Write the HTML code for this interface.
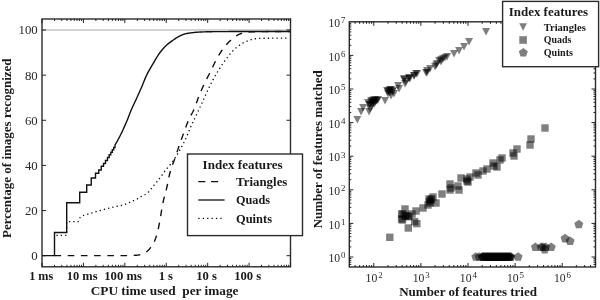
<!DOCTYPE html>
<html><head><meta charset="utf-8"><title>Index features</title>
<style>
html,body{margin:0;padding:0;background:#fff}
body{width:600px;height:300px;overflow:hidden}
svg{display:block}
text{font-family:"Liberation Serif","DejaVu Serif",serif;fill:#1a1a1a}
.b{font-weight:bold}
.tk{fill:#2a2a2a}
</style></head><body>
<svg width="600" height="300" viewBox="0 0 600 300">
<rect width="600" height="300" fill="#fff"/>
<line x1="42.0" x2="290.5" y1="30" y2="30" stroke="#9a9a9a" stroke-width="0.85"/>
<polyline points="42.00,255.60 54.50,255.60 54.50,232.50 66.70,232.50 66.70,202.80 79.70,202.80 79.70,192.20 86.70,192.20 86.70,185.00 91.25,185.00 91.25,178.00 95.50,178.00 95.50,173.25 98.75,173.25 98.75,170.00 101.25,170.00 101.25,166.25 103.50,166.25 103.50,163.50 105.50,163.50 105.50,160.50 107.50,160.50 107.50,157.50 109.20,157.50 109.20,154.80 110.80,154.80 110.80,152.20 112.30,152.20 112.30,149.80 113.70,149.80 113.70,147.50 115.00,147.50 115.00,145.00 115.00,145.00 116.00,143.32 117.00,141.58 118.00,139.77 119.00,137.91 120.00,135.98 121.00,134.00 122.00,131.94 123.00,129.82 124.00,127.63 125.00,125.38 126.00,123.08 127.00,120.70 128.00,118.18 129.00,115.60 130.00,113.05 131.00,110.59 132.00,108.29 133.00,106.08 134.00,103.94 135.00,101.82 136.00,99.68 137.00,97.50 138.00,95.27 139.00,93.02 140.00,90.75 141.00,88.47 142.00,86.16 143.00,83.81 144.00,81.35 145.00,78.87 146.00,76.51 147.00,74.39 148.00,72.44 149.00,70.60 150.00,68.85 151.00,67.15 152.00,65.48 153.00,63.81 154.00,62.11 155.00,60.39 156.00,58.69 157.00,57.01 158.00,55.41 159.00,53.89 160.00,52.50 161.00,51.21 162.00,49.97 163.00,48.80 164.00,47.68 165.00,46.63 166.00,45.65 167.00,44.73 168.00,43.88 169.00,43.08 170.00,42.32 171.00,41.60 172.00,40.90 173.00,40.21 174.00,39.52 175.00,38.82 176.00,38.13 177.00,37.47 178.00,36.85 179.00,36.29 180.00,35.80 181.00,35.37 182.00,34.95 183.00,34.57 184.00,34.22 185.00,33.91 186.00,33.65 187.00,33.44 188.00,33.26 189.00,33.10 190.00,32.95 191.00,32.82 192.00,32.69 193.00,32.59 194.00,32.49 195.00,32.40 196.00,32.32 197.00,32.24 198.00,32.17 199.00,32.10 200.00,32.04 201.00,31.99 202.00,31.95 203.00,31.91 204.00,31.88 205.00,31.85 206.00,31.82 207.00,31.80 208.00,31.77 209.00,31.75 210.00,31.73 211.00,31.71 212.00,31.69 213.00,31.67 214.00,31.66 215.00,31.64 216.00,31.63 217.00,31.62 218.00,31.61 219.00,31.60 220.00,31.60 221.00,31.60 222.00,31.59 223.00,31.59 224.00,31.59 225.00,31.58 226.00,31.58 227.00,31.58 228.00,31.58 229.00,31.57 230.00,31.57 231.00,31.57 232.00,31.57 233.00,31.56 234.00,31.56 235.00,31.56 236.00,31.56 237.00,31.55 238.00,31.55 239.00,31.55 240.00,31.55 241.00,31.55 242.00,31.54 243.00,31.54 244.00,31.54 245.00,31.54 246.00,31.54 247.00,31.53 248.00,31.53 249.00,31.53 250.00,31.53 251.00,31.53 252.00,31.53 253.00,31.53 254.00,31.52 255.00,31.52 256.00,31.52 257.00,31.52 258.00,31.52 259.00,31.52 260.00,31.52 261.00,31.51 262.00,31.51 263.00,31.51 264.00,31.51 265.00,31.51 266.00,31.51 267.00,31.51 268.00,31.51 269.00,31.51 270.00,31.51 271.00,31.51 272.00,31.51 273.00,31.51 274.00,31.50 275.00,31.50 276.00,31.50 277.00,31.50 278.00,31.50 279.00,31.50 280.00,31.50 281.00,31.50 282.00,31.50 283.00,31.50 284.00,31.50 285.00,31.50 286.00,31.50 287.00,31.50 288.00,31.50 289.00,31.50 290.00,31.50 290.50,31.50" fill="none" stroke="#111" stroke-width="1.4" stroke-linejoin="miter"/>
<polyline points="54.50,255.60 55.50,255.60 56.50,255.60 57.50,255.60 58.50,255.60 59.50,255.60 60.50,255.60 61.50,255.60 62.50,255.60 63.50,255.60 64.50,255.60 65.50,255.60 66.50,255.60 67.50,255.60 68.50,255.60 69.50,255.60 70.50,255.60 71.50,255.60 72.50,255.60 73.50,255.60 74.50,255.60 75.50,255.60 76.50,255.60 77.50,255.60 78.50,255.60 79.50,255.60 80.50,255.60 81.50,255.60 82.50,255.60 83.50,255.60 84.50,255.60 85.50,255.60 86.50,255.60 87.50,255.60 88.50,255.60 89.50,255.60 90.50,255.60 91.50,255.60 92.50,255.60 93.50,255.60 94.50,255.60 95.50,255.60 96.50,255.60 97.50,255.60 98.50,255.60 99.50,255.60 100.50,255.60 101.50,255.60 102.50,255.60 103.50,255.60 104.50,255.60 105.50,255.60 106.50,255.60 107.50,255.60 108.50,255.60 109.50,255.60 110.50,255.60 111.50,255.60 112.50,255.60 113.50,255.60 114.50,255.60 115.50,255.60 116.50,255.60 117.50,255.60 118.50,255.60 119.50,255.60 120.50,255.60 121.50,255.60 122.50,255.60 123.50,255.60 124.50,255.60 125.50,255.60 126.50,255.59 127.50,255.58 128.50,255.56 129.50,255.53 130.50,255.50 131.50,255.46 132.50,255.42 133.50,255.37 134.50,255.33 135.50,255.27 136.50,255.19 137.50,255.08 138.50,254.95 139.50,254.79 140.50,254.60 141.50,254.38 142.50,254.04 143.50,253.59 144.50,253.05 145.50,252.43 146.50,251.74 147.50,251.00 148.50,250.10 149.50,248.97 150.50,247.68 151.50,246.30 152.50,244.80 153.50,243.10 154.50,241.12 155.50,238.73 156.50,235.65 157.50,231.99 158.50,227.81 159.50,222.72 160.50,217.10 161.50,210.90 162.50,205.29 163.50,200.22 164.50,196.07 165.50,192.71 166.50,188.96 167.50,184.25 168.50,179.18 169.50,174.48 170.50,170.76 171.50,167.63 172.50,164.81 173.50,162.14 174.50,159.43 175.50,156.53 176.50,153.58 177.50,150.60 178.50,147.65 179.50,144.73 180.50,141.88 181.50,139.09 182.50,136.33 183.50,133.60 184.50,130.88 185.50,128.11 186.50,125.33 187.50,122.64 188.50,120.14 189.50,117.94 190.50,116.04 191.50,114.28 192.50,112.51 193.50,110.54 194.50,108.23 195.50,105.62 196.50,102.82 197.50,99.99 198.50,97.27 199.50,94.77 200.50,92.36 201.50,90.02 202.50,87.75 203.50,85.54 204.50,83.41 205.50,81.36 206.50,79.37 207.50,77.41 208.50,75.46 209.50,73.49 210.50,71.49 211.50,69.43 212.50,67.34 213.50,65.25 214.50,63.19 215.50,61.19 216.50,59.29 217.50,57.50 218.50,55.80 219.50,54.15 220.50,52.55 221.50,51.01 222.50,49.55 223.50,48.16 224.50,46.86 225.50,45.66 226.50,44.51 227.50,43.41 228.50,42.36 229.50,41.37 230.50,40.44 231.50,39.57 232.50,38.75 233.50,37.96 234.50,37.18 235.50,36.42 236.50,35.71 237.50,35.07 238.50,34.52 239.50,34.07 240.50,33.75 241.50,33.45 242.50,33.17 243.50,32.91 244.50,32.67 245.50,32.46 246.50,32.28 247.50,32.13 248.50,32.01 249.50,31.93 250.50,31.88 251.50,31.84 252.50,31.80 253.50,31.76 254.50,31.73 255.50,31.70 256.50,31.68 257.50,31.66 258.50,31.64 259.50,31.63 260.50,31.61 261.50,31.60 262.50,31.60 263.50,31.59 264.50,31.58 265.50,31.58 266.50,31.57 267.50,31.57 268.50,31.56 269.50,31.55 270.50,31.55 271.50,31.55 272.50,31.54 273.50,31.54 274.50,31.53 275.50,31.53 276.50,31.52 277.50,31.52 278.50,31.52 279.50,31.52 280.50,31.51 281.50,31.51 282.50,31.51 283.50,31.51 284.50,31.50 285.50,31.50 286.50,31.50 287.50,31.50 288.50,31.50 289.50,31.50 290.50,31.50" fill="none" stroke="#111" stroke-width="1.4" stroke-dasharray="6.6 6.6"/>
<polyline points="56.40,235.30 66.70,235.30 66.70,221.70 78.20,221.70 78.20,221.70 79.20,219.29 80.20,217.37 81.20,216.43 82.20,215.89 83.20,215.50 84.20,215.18 85.20,214.89 86.20,214.57 87.20,214.28 88.20,214.01 89.20,213.74 90.20,213.47 91.20,213.18 92.20,212.86 93.20,212.53 94.20,212.20 95.20,211.88 96.20,211.58 97.20,211.30 98.20,211.03 99.20,210.76 100.20,210.50 101.20,210.25 102.20,209.99 103.20,209.73 104.20,209.46 105.20,209.19 106.20,208.92 107.20,208.66 108.20,208.39 109.20,208.13 110.20,207.87 111.20,207.62 112.20,207.38 113.20,207.15 114.20,206.92 115.20,206.70 116.20,206.48 117.20,206.26 118.20,206.06 119.20,205.87 120.20,205.68 121.20,205.49 122.20,205.28 123.20,205.03 124.20,204.72 125.20,204.34 126.20,203.92 127.20,203.48 128.20,203.04 129.20,202.62 130.20,202.20 131.20,201.78 132.20,201.34 133.20,200.90 134.20,200.44 135.20,199.96 136.20,199.46 137.20,198.92 138.20,198.31 139.20,197.67 140.20,197.05 141.20,196.49 142.20,196.00 143.20,195.55 144.20,195.09 145.20,194.56 146.20,193.93 147.20,193.17 148.20,192.29 149.20,191.30 150.20,190.12 151.20,188.75 152.20,187.38 153.20,186.15 154.20,184.97 155.20,183.82 156.20,182.67 157.20,181.48 158.20,180.25 159.20,178.94 160.20,177.59 161.20,176.21 162.20,174.82 163.20,173.43 164.20,172.06 165.20,170.74 166.20,169.47 167.20,168.23 168.20,167.02 169.20,165.82 170.20,164.60 171.20,163.36 172.20,162.06 173.20,160.71 174.20,159.27 175.20,157.76 176.20,156.19 177.20,154.55 178.20,152.87 179.20,151.14 180.20,149.37 181.20,147.58 182.20,145.74 183.20,143.85 184.20,141.90 185.20,139.88 186.20,137.78 187.20,135.57 188.20,133.13 189.20,130.60 190.20,128.11 191.20,125.80 192.20,123.60 193.20,121.48 194.20,119.40 195.20,117.35 196.20,115.30 197.20,113.24 198.20,111.14 199.20,108.99 200.20,106.82 201.20,104.63 202.20,102.44 203.20,100.24 204.20,98.06 205.20,95.86 206.20,93.64 207.20,91.42 208.20,89.24 209.20,87.13 210.20,85.10 211.20,83.15 212.20,81.26 213.20,79.42 214.20,77.64 215.20,75.91 216.20,74.20 217.20,72.51 218.20,70.84 219.20,69.20 220.20,67.59 221.20,66.02 222.20,64.50 223.20,63.02 224.20,61.60 225.20,60.23 226.20,58.89 227.20,57.57 228.20,56.27 229.20,55.00 230.20,53.77 231.20,52.60 232.20,51.48 233.20,50.44 234.20,49.46 235.20,48.58 236.20,47.74 237.20,46.93 238.20,46.16 239.20,45.42 240.20,44.71 241.20,44.06 242.20,43.44 243.20,42.88 244.20,42.37 245.20,41.91 246.20,41.47 247.20,41.04 248.20,40.63 249.20,40.23 250.20,39.86 251.20,39.54 252.20,39.25 253.20,39.02 254.20,38.84 255.20,38.73 256.20,38.65 257.20,38.57 258.20,38.50 259.20,38.44 260.20,38.39 261.20,38.34 262.20,38.30 263.20,38.28 264.20,38.26 265.20,38.25 266.20,38.24 267.20,38.24 268.20,38.24 269.20,38.23 270.20,38.23 271.20,38.23 272.20,38.22 273.20,38.22 274.20,38.22 275.20,38.21 276.20,38.21 277.20,38.21 278.20,38.21 279.20,38.21 280.20,38.20 281.20,38.20 282.20,38.20 283.20,38.20 284.20,38.20 285.20,38.20 286.20,38.20 287.20,38.20 287.50,38.20" fill="none" stroke="#111" stroke-width="1.3" stroke-dasharray="1.3 3.05"/>
<rect x="42.0" y="19.0" width="248.5" height="247.8" fill="none" stroke="#2c2c2c" stroke-width="1.4"/>
<path d="M42.00 266.8v-4M42.00 19.0v4M54.47 266.8v-2M54.47 19.0v2M61.76 266.8v-2M61.76 19.0v2M66.94 266.8v-2M66.94 19.0v2M70.95 266.8v-2M70.95 19.0v2M74.23 266.8v-2M74.23 19.0v2M77.00 266.8v-2M77.00 19.0v2M79.41 266.8v-2M79.41 19.0v2M81.52 266.8v-2M81.52 19.0v2M83.42 266.8v-4M83.42 19.0v4M95.89 266.8v-2M95.89 19.0v2M103.18 266.8v-2M103.18 19.0v2M108.36 266.8v-2M108.36 19.0v2M112.37 266.8v-2M112.37 19.0v2M115.65 266.8v-2M115.65 19.0v2M118.42 266.8v-2M118.42 19.0v2M120.83 266.8v-2M120.83 19.0v2M122.94 266.8v-2M122.94 19.0v2M124.84 266.8v-4M124.84 19.0v4M137.31 266.8v-2M137.31 19.0v2M144.60 266.8v-2M144.60 19.0v2M149.78 266.8v-2M149.78 19.0v2M153.79 266.8v-2M153.79 19.0v2M157.07 266.8v-2M157.07 19.0v2M159.84 266.8v-2M159.84 19.0v2M162.25 266.8v-2M162.25 19.0v2M164.36 266.8v-2M164.36 19.0v2M166.26 266.8v-4M166.26 19.0v4M178.73 266.8v-2M178.73 19.0v2M186.02 266.8v-2M186.02 19.0v2M191.20 266.8v-2M191.20 19.0v2M195.21 266.8v-2M195.21 19.0v2M198.49 266.8v-2M198.49 19.0v2M201.26 266.8v-2M201.26 19.0v2M203.67 266.8v-2M203.67 19.0v2M205.78 266.8v-2M205.78 19.0v2M207.68 266.8v-4M207.68 19.0v4M220.15 266.8v-2M220.15 19.0v2M227.44 266.8v-2M227.44 19.0v2M232.62 266.8v-2M232.62 19.0v2M236.63 266.8v-2M236.63 19.0v2M239.91 266.8v-2M239.91 19.0v2M242.68 266.8v-2M242.68 19.0v2M245.09 266.8v-2M245.09 19.0v2M247.20 266.8v-2M247.20 19.0v2M249.10 266.8v-4M249.10 19.0v4M261.57 266.8v-2M261.57 19.0v2M268.86 266.8v-2M268.86 19.0v2M274.04 266.8v-2M274.04 19.0v2M278.05 266.8v-2M278.05 19.0v2M281.33 266.8v-2M281.33 19.0v2M284.10 266.8v-2M284.10 19.0v2M286.51 266.8v-2M286.51 19.0v2M288.62 266.8v-2M288.62 19.0v2M290.52 266.8v-4M290.52 19.0v4M42.0 255.70h4M290.5 255.70h-4M42.0 210.56h4M290.5 210.56h-4M42.0 165.42h4M290.5 165.42h-4M42.0 120.28h4M290.5 120.28h-4M42.0 75.14h4M290.5 75.14h-4M42.0 30.00h4M290.5 30.00h-4" stroke="#1a1a1a" stroke-width="0.95" fill="none"/>
<text x="37.7" y="260.1" text-anchor="end" class="tk" font-size="12.8">0</text>
<text x="37.7" y="214.9" text-anchor="end" class="tk" font-size="12.8">20</text>
<text x="37.7" y="169.8" text-anchor="end" class="tk" font-size="12.8">40</text>
<text x="37.7" y="124.6" text-anchor="end" class="tk" font-size="12.8">60</text>
<text x="37.7" y="79.5" text-anchor="end" class="tk" font-size="12.8">80</text>
<text x="37.7" y="34.3" text-anchor="end" class="tk" font-size="12.8">100</text>
<text x="29.2" y="280.2" class="b" font-size="12.2" textLength="24.1" lengthAdjust="spacingAndGlyphs" xml:space="preserve">1 ms</text>
<text x="66.7" y="280.2" class="b" font-size="12.2" textLength="30.8" lengthAdjust="spacingAndGlyphs" xml:space="preserve">10 ms</text>
<text x="104.2" y="280.2" class="b" font-size="12.2" textLength="37.8" lengthAdjust="spacingAndGlyphs" xml:space="preserve">100 ms</text>
<text x="158.7" y="280.2" class="b" font-size="12.2" textLength="14.3" lengthAdjust="spacingAndGlyphs" xml:space="preserve">1 s</text>
<text x="196.3" y="280.2" class="b" font-size="12.2" textLength="20.7" lengthAdjust="spacingAndGlyphs" xml:space="preserve">10 s</text>
<text x="234.2" y="280.2" class="b" font-size="12.2" textLength="27.1" lengthAdjust="spacingAndGlyphs" xml:space="preserve">100 s</text>
<text x="90.7" y="295.3" class="b" font-size="12.2" textLength="147.8" lengthAdjust="spacingAndGlyphs" xml:space="preserve">CPU time used  per image</text>
<text transform="translate(10.6 238) rotate(-90)" class="b" font-size="12.2" textLength="179.6" lengthAdjust="spacingAndGlyphs">Percentage of images recognized</text>
<rect x="187.5" y="154" width="115" height="81.6" fill="#fff" stroke="#2c2c2c" stroke-width="1.4"/>
<text x="202.6" y="169" class="b" font-size="12.2" textLength="80.0" lengthAdjust="spacingAndGlyphs" xml:space="preserve">Index features</text>
<line x1="198.3" x2="224" y1="181.6" y2="181.6" stroke="#111" stroke-width="1.4" stroke-dasharray="7 5.8"/>
<line x1="198.3" x2="224.6" y1="200" y2="200" stroke="#111" stroke-width="1.3"/>
<line x1="198.3" x2="222" y1="218.3" y2="218.3" stroke="#111" stroke-width="1.3" stroke-dasharray="1.3 3.1"/>
<text x="236.0" y="186" class="b" font-size="12.2" textLength="51.4" lengthAdjust="spacingAndGlyphs" xml:space="preserve">Triangles</text>
<text x="236.0" y="204.4" class="b" font-size="12.2" textLength="34.0" lengthAdjust="spacingAndGlyphs" xml:space="preserve">Quads</text>
<text x="236.0" y="223" class="b" font-size="12.2" textLength="36.0" lengthAdjust="spacingAndGlyphs" xml:space="preserve">Quints</text>
<path d="M353.4 115.9h7.9l-3.95 7.6z" fill="#000" fill-opacity="0.5"/>
<path d="M357.1 107.9h7.9l-3.95 7.6z" fill="#000" fill-opacity="0.5"/>
<path d="M359.1 103.9h7.9l-3.95 7.6z" fill="#000" fill-opacity="0.5"/>
<path d="M365.1 107.9h7.9l-3.95 7.6z" fill="#000" fill-opacity="0.5"/>
<path d="M366.1 104.9h7.9l-3.95 7.6z" fill="#000" fill-opacity="0.5"/>
<path d="M364.1 98.9h7.9l-3.95 7.6z" fill="#000" fill-opacity="0.5"/>
<path d="M367.1 96.9h7.9l-3.95 7.6z" fill="#000" fill-opacity="0.5"/>
<path d="M369.1 98.9h7.9l-3.95 7.6z" fill="#000" fill-opacity="0.5"/>
<path d="M371.1 95.9h7.9l-3.95 7.6z" fill="#000" fill-opacity="0.5"/>
<path d="M373.1 96.9h7.9l-3.95 7.6z" fill="#000" fill-opacity="0.5"/>
<path d="M366.1 100.9h7.9l-3.95 7.6z" fill="#000" fill-opacity="0.5"/>
<path d="M368.1 101.9h7.9l-3.95 7.6z" fill="#000" fill-opacity="0.5"/>
<path d="M370.1 100.4h7.9l-3.95 7.6z" fill="#000" fill-opacity="0.5"/>
<path d="M381.1 96.9h7.9l-3.95 7.6z" fill="#000" fill-opacity="0.5"/>
<path d="M383.1 86.9h7.9l-3.95 7.6z" fill="#000" fill-opacity="0.5"/>
<path d="M386.1 85.9h7.9l-3.95 7.6z" fill="#000" fill-opacity="0.5"/>
<path d="M384.1 89.9h7.9l-3.95 7.6z" fill="#000" fill-opacity="0.5"/>
<path d="M388.1 87.9h7.9l-3.95 7.6z" fill="#000" fill-opacity="0.5"/>
<path d="M390.1 89.9h7.9l-3.95 7.6z" fill="#000" fill-opacity="0.5"/>
<path d="M387.1 91.9h7.9l-3.95 7.6z" fill="#000" fill-opacity="0.5"/>
<path d="M394.1 81.9h7.9l-3.95 7.6z" fill="#000" fill-opacity="0.5"/>
<path d="M395.1 84.9h7.9l-3.95 7.6z" fill="#000" fill-opacity="0.5"/>
<path d="M400.1 75.9h7.9l-3.95 7.6z" fill="#000" fill-opacity="0.5"/>
<path d="M401.1 79.9h7.9l-3.95 7.6z" fill="#000" fill-opacity="0.5"/>
<path d="M405.1 74.9h7.9l-3.95 7.6z" fill="#000" fill-opacity="0.5"/>
<path d="M410.1 71.9h7.9l-3.95 7.6z" fill="#000" fill-opacity="0.5"/>
<path d="M412.1 69.9h7.9l-3.95 7.6z" fill="#000" fill-opacity="0.5"/>
<path d="M423.1 68.9h7.9l-3.95 7.6z" fill="#000" fill-opacity="0.5"/>
<path d="M482.1 27.9h7.9l-3.95 7.6z" fill="#000" fill-opacity="0.5"/>
<path d="M465.1 37.9h7.9l-3.95 7.6z" fill="#000" fill-opacity="0.5"/>
<path d="M460.1 42.9h7.9l-3.95 7.6z" fill="#000" fill-opacity="0.5"/>
<path d="M455.1 46.9h7.9l-3.95 7.6z" fill="#000" fill-opacity="0.5"/>
<path d="M450.1 49.9h7.9l-3.95 7.6z" fill="#000" fill-opacity="0.5"/>
<path d="M443.1 52.9h7.9l-3.95 7.6z" fill="#000" fill-opacity="0.5"/>
<path d="M439.1 54.9h7.9l-3.95 7.6z" fill="#000" fill-opacity="0.5"/>
<path d="M437.1 57.9h7.9l-3.95 7.6z" fill="#000" fill-opacity="0.5"/>
<path d="M433.1 59.9h7.9l-3.95 7.6z" fill="#000" fill-opacity="0.5"/>
<path d="M431.1 62.9h7.9l-3.95 7.6z" fill="#000" fill-opacity="0.5"/>
<path d="M426.1 64.9h7.9l-3.95 7.6z" fill="#000" fill-opacity="0.5"/>
<path d="M423.1 66.9h7.9l-3.95 7.6z" fill="#000" fill-opacity="0.5"/>
<path d="M422.1 68.9h7.9l-3.95 7.6z" fill="#000" fill-opacity="0.5"/>
<path d="M413.1 69.9h7.9l-3.95 7.6z" fill="#000" fill-opacity="0.5"/>
<path d="M410.1 71.9h7.9l-3.95 7.6z" fill="#000" fill-opacity="0.5"/>
<path d="M405.1 73.9h7.9l-3.95 7.6z" fill="#000" fill-opacity="0.5"/>
<path d="M400.1 74.9h7.9l-3.95 7.6z" fill="#000" fill-opacity="0.5"/>
<path d="M435.1 56.9h7.9l-3.95 7.6z" fill="#000" fill-opacity="0.5"/>
<path d="M437.1 55.9h7.9l-3.95 7.6z" fill="#000" fill-opacity="0.5"/>
<path d="M432.1 61.4h7.9l-3.95 7.6z" fill="#000" fill-opacity="0.5"/>
<path d="M441.1 53.9h7.9l-3.95 7.6z" fill="#000" fill-opacity="0.5"/>
<path d="M368.1 97.9h7.9l-3.95 7.6z" fill="#000" fill-opacity="0.5"/>
<path d="M370.1 97.4h7.9l-3.95 7.6z" fill="#000" fill-opacity="0.5"/>
<path d="M372.1 96.9h7.9l-3.95 7.6z" fill="#000" fill-opacity="0.5"/>
<path d="M367.1 99.4h7.9l-3.95 7.6z" fill="#000" fill-opacity="0.5"/>
<path d="M369.1 96.4h7.9l-3.95 7.6z" fill="#000" fill-opacity="0.5"/>
<path d="M371.1 98.4h7.9l-3.95 7.6z" fill="#000" fill-opacity="0.5"/>
<path d="M365.1 100.9h7.9l-3.95 7.6z" fill="#000" fill-opacity="0.5"/>
<path d="M374.1 95.9h7.9l-3.95 7.6z" fill="#000" fill-opacity="0.5"/>
<path d="M385.1 86.9h7.9l-3.95 7.6z" fill="#000" fill-opacity="0.5"/>
<path d="M387.1 85.9h7.9l-3.95 7.6z" fill="#000" fill-opacity="0.5"/>
<path d="M386.1 88.9h7.9l-3.95 7.6z" fill="#000" fill-opacity="0.5"/>
<path d="M384.1 87.9h7.9l-3.95 7.6z" fill="#000" fill-opacity="0.5"/>
<path d="M389.1 86.9h7.9l-3.95 7.6z" fill="#000" fill-opacity="0.5"/>
<path d="M402.1 77.9h7.9l-3.95 7.6z" fill="#000" fill-opacity="0.5"/>
<path d="M406.1 74.4h7.9l-3.95 7.6z" fill="#000" fill-opacity="0.5"/>
<rect x="386.1" y="233.6" width="7.4" height="7.4" fill="#000" fill-opacity="0.5"/>
<rect x="404.6" y="224.3" width="7.4" height="7.4" fill="#000" fill-opacity="0.5"/>
<rect x="410.9" y="217.9" width="7.4" height="7.4" fill="#000" fill-opacity="0.5"/>
<rect x="413.1" y="219.9" width="7.4" height="7.4" fill="#000" fill-opacity="0.5"/>
<rect x="398.8" y="216.3" width="7.4" height="7.4" fill="#000" fill-opacity="0.5"/>
<rect x="405.3" y="213.0" width="7.4" height="7.4" fill="#000" fill-opacity="0.5"/>
<rect x="402.1" y="212.1" width="7.4" height="7.4" fill="#000" fill-opacity="0.5"/>
<rect x="399.3" y="210.3" width="7.4" height="7.4" fill="#000" fill-opacity="0.5"/>
<rect x="427.1" y="196.3" width="7.4" height="7.4" fill="#000" fill-opacity="0.5"/>
<rect x="425.8" y="197.8" width="7.4" height="7.4" fill="#000" fill-opacity="0.5"/>
<rect x="427.8" y="195.3" width="7.4" height="7.4" fill="#000" fill-opacity="0.5"/>
<rect x="401.3" y="205.3" width="7.4" height="7.4" fill="#000" fill-opacity="0.5"/>
<rect x="397.9" y="210.3" width="7.4" height="7.4" fill="#000" fill-opacity="0.5"/>
<rect x="397.9" y="215.3" width="7.4" height="7.4" fill="#000" fill-opacity="0.5"/>
<rect x="404.3" y="212.3" width="7.4" height="7.4" fill="#000" fill-opacity="0.5"/>
<rect x="412.3" y="207.3" width="7.4" height="7.4" fill="#000" fill-opacity="0.5"/>
<rect x="408.3" y="210.3" width="7.4" height="7.4" fill="#000" fill-opacity="0.5"/>
<rect x="401.3" y="212.3" width="7.4" height="7.4" fill="#000" fill-opacity="0.5"/>
<rect x="419.3" y="204.3" width="7.4" height="7.4" fill="#000" fill-opacity="0.5"/>
<rect x="425.3" y="195.3" width="7.4" height="7.4" fill="#000" fill-opacity="0.5"/>
<rect x="426.3" y="199.3" width="7.4" height="7.4" fill="#000" fill-opacity="0.5"/>
<rect x="429.3" y="193.3" width="7.4" height="7.4" fill="#000" fill-opacity="0.5"/>
<rect x="432.3" y="199.3" width="7.4" height="7.4" fill="#000" fill-opacity="0.5"/>
<rect x="424.3" y="201.3" width="7.4" height="7.4" fill="#000" fill-opacity="0.5"/>
<rect x="438.3" y="190.3" width="7.4" height="7.4" fill="#000" fill-opacity="0.5"/>
<rect x="446.3" y="180.3" width="7.4" height="7.4" fill="#000" fill-opacity="0.5"/>
<rect x="446.3" y="186.3" width="7.4" height="7.4" fill="#000" fill-opacity="0.5"/>
<rect x="454.3" y="182.3" width="7.4" height="7.4" fill="#000" fill-opacity="0.5"/>
<rect x="455.3" y="186.3" width="7.4" height="7.4" fill="#000" fill-opacity="0.5"/>
<rect x="463.3" y="177.3" width="7.4" height="7.4" fill="#000" fill-opacity="0.5"/>
<rect x="447.3" y="184.3" width="7.4" height="7.4" fill="#000" fill-opacity="0.5"/>
<rect x="457.3" y="174.3" width="7.4" height="7.4" fill="#000" fill-opacity="0.5"/>
<rect x="463.3" y="175.3" width="7.4" height="7.4" fill="#000" fill-opacity="0.5"/>
<rect x="464.3" y="178.3" width="7.4" height="7.4" fill="#000" fill-opacity="0.5"/>
<rect x="466.3" y="173.3" width="7.4" height="7.4" fill="#000" fill-opacity="0.5"/>
<rect x="472.3" y="169.3" width="7.4" height="7.4" fill="#000" fill-opacity="0.5"/>
<rect x="474.3" y="171.3" width="7.4" height="7.4" fill="#000" fill-opacity="0.5"/>
<rect x="479.3" y="167.3" width="7.4" height="7.4" fill="#000" fill-opacity="0.5"/>
<rect x="483.3" y="165.3" width="7.4" height="7.4" fill="#000" fill-opacity="0.5"/>
<rect x="489.3" y="159.3" width="7.4" height="7.4" fill="#000" fill-opacity="0.5"/>
<rect x="490.3" y="162.3" width="7.4" height="7.4" fill="#000" fill-opacity="0.5"/>
<rect x="493.3" y="163.3" width="7.4" height="7.4" fill="#000" fill-opacity="0.5"/>
<rect x="496.3" y="156.3" width="7.4" height="7.4" fill="#000" fill-opacity="0.5"/>
<rect x="498.3" y="154.3" width="7.4" height="7.4" fill="#000" fill-opacity="0.5"/>
<rect x="509.3" y="149.3" width="7.4" height="7.4" fill="#000" fill-opacity="0.5"/>
<rect x="510.3" y="152.3" width="7.4" height="7.4" fill="#000" fill-opacity="0.5"/>
<rect x="513.3" y="145.3" width="7.4" height="7.4" fill="#000" fill-opacity="0.5"/>
<rect x="526.3" y="141.3" width="7.4" height="7.4" fill="#000" fill-opacity="0.5"/>
<rect x="527.3" y="135.3" width="7.4" height="7.4" fill="#000" fill-opacity="0.5"/>
<rect x="541.3" y="124.3" width="7.4" height="7.4" fill="#000" fill-opacity="0.5"/>
<polygon points="475.8,252.2 480.3,255.5 478.6,260.8 473.0,260.8 471.3,255.5" fill="#000" fill-opacity="0.5"/>
<polygon points="479.0,252.2 483.5,255.5 481.8,260.8 476.2,260.8 474.5,255.5" fill="#000" fill-opacity="0.5"/>
<polygon points="518.1,252.2 522.6,255.5 520.9,260.8 515.3,260.8 513.6,255.5" fill="#000" fill-opacity="0.5"/>
<polygon points="535.4,242.6 539.9,245.8 538.2,251.1 532.6,251.1 530.9,245.8" fill="#000" fill-opacity="0.5"/>
<polygon points="541.0,242.6 545.5,245.8 543.8,251.1 538.2,251.1 536.5,245.8" fill="#000" fill-opacity="0.5"/>
<polygon points="543.0,242.6 547.5,245.8 545.8,251.1 540.2,251.1 538.5,245.8" fill="#000" fill-opacity="0.5"/>
<polygon points="545.6,242.6 550.1,245.8 548.4,251.1 542.8,251.1 541.1,245.8" fill="#000" fill-opacity="0.5"/>
<polygon points="551.2,242.6 555.7,245.8 554.0,251.1 548.4,251.1 546.7,245.8" fill="#000" fill-opacity="0.5"/>
<polygon points="544.7,244.8 549.2,248.1 547.5,253.4 541.9,253.4 540.2,248.1" fill="#000" fill-opacity="0.5"/>
<polygon points="565.1,233.8 569.6,237.1 567.9,242.4 562.3,242.4 560.6,237.1" fill="#000" fill-opacity="0.5"/>
<polygon points="570.1,236.4 574.6,239.7 572.9,245.0 567.3,245.0 565.6,239.7" fill="#000" fill-opacity="0.5"/>
<polygon points="578.8,219.7 583.3,222.9 581.6,228.2 576.0,228.2 574.3,222.9" fill="#000" fill-opacity="0.5"/>
<polygon points="482.0,252.2 486.5,255.5 484.8,260.8 479.2,260.8 477.5,255.5" fill="#000" fill-opacity="0.5"/>
<polygon points="482.7,252.2 487.3,255.5 485.5,260.8 480.0,260.8 478.2,255.5" fill="#000" fill-opacity="0.5"/>
<polygon points="483.5,252.2 488.0,255.5 486.3,260.8 480.7,260.8 479.0,255.5" fill="#000" fill-opacity="0.5"/>
<polygon points="484.2,252.2 488.7,255.5 487.0,260.8 481.4,260.8 479.7,255.5" fill="#000" fill-opacity="0.5"/>
<polygon points="485.0,252.2 489.5,255.5 487.8,260.8 482.2,260.8 480.5,255.5" fill="#000" fill-opacity="0.5"/>
<polygon points="485.7,252.2 490.2,255.5 488.5,260.8 482.9,260.8 481.2,255.5" fill="#000" fill-opacity="0.5"/>
<polygon points="486.5,252.2 491.0,255.5 489.3,260.8 483.7,260.8 481.9,255.5" fill="#000" fill-opacity="0.5"/>
<polygon points="487.2,252.2 491.7,255.5 490.0,260.8 484.4,260.8 482.7,255.5" fill="#000" fill-opacity="0.5"/>
<polygon points="487.9,252.2 492.5,255.5 490.7,260.8 485.2,260.8 483.4,255.5" fill="#000" fill-opacity="0.5"/>
<polygon points="488.7,252.2 493.2,255.5 491.5,260.8 485.9,260.8 484.2,255.5" fill="#000" fill-opacity="0.5"/>
<polygon points="489.4,252.2 494.0,255.5 492.2,260.8 486.6,260.8 484.9,255.5" fill="#000" fill-opacity="0.5"/>
<polygon points="490.2,252.2 494.7,255.5 493.0,260.8 487.4,260.8 485.7,255.5" fill="#000" fill-opacity="0.5"/>
<polygon points="490.9,252.2 495.4,255.5 493.7,260.8 488.1,260.8 486.4,255.5" fill="#000" fill-opacity="0.5"/>
<polygon points="491.7,252.2 496.2,255.5 494.5,260.8 488.9,260.8 487.1,255.5" fill="#000" fill-opacity="0.5"/>
<polygon points="492.4,252.2 496.9,255.5 495.2,260.8 489.6,260.8 487.9,255.5" fill="#000" fill-opacity="0.5"/>
<polygon points="493.2,252.2 497.7,255.5 495.9,260.8 490.4,260.8 488.6,255.5" fill="#000" fill-opacity="0.5"/>
<polygon points="493.9,252.2 498.4,255.5 496.7,260.8 491.1,260.8 489.4,255.5" fill="#000" fill-opacity="0.5"/>
<polygon points="494.6,252.2 499.2,255.5 497.4,260.8 491.8,260.8 490.1,255.5" fill="#000" fill-opacity="0.5"/>
<polygon points="495.4,252.2 499.9,255.5 498.2,260.8 492.6,260.8 490.9,255.5" fill="#000" fill-opacity="0.5"/>
<polygon points="496.1,252.2 500.6,255.5 498.9,260.8 493.3,260.8 491.6,255.5" fill="#000" fill-opacity="0.5"/>
<polygon points="496.9,252.2 501.4,255.5 499.7,260.8 494.1,260.8 492.4,255.5" fill="#000" fill-opacity="0.5"/>
<polygon points="497.6,252.2 502.1,255.5 500.4,260.8 494.8,260.8 493.1,255.5" fill="#000" fill-opacity="0.5"/>
<polygon points="498.4,252.2 502.9,255.5 501.2,260.8 495.6,260.8 493.8,255.5" fill="#000" fill-opacity="0.5"/>
<polygon points="499.1,252.2 503.6,255.5 501.9,260.8 496.3,260.8 494.6,255.5" fill="#000" fill-opacity="0.5"/>
<polygon points="499.8,252.2 504.4,255.5 502.6,260.8 497.1,260.8 495.3,255.5" fill="#000" fill-opacity="0.5"/>
<polygon points="500.6,252.2 505.1,255.5 503.4,260.8 497.8,260.8 496.1,255.5" fill="#000" fill-opacity="0.5"/>
<polygon points="501.3,252.2 505.9,255.5 504.1,260.8 498.5,260.8 496.8,255.5" fill="#000" fill-opacity="0.5"/>
<polygon points="502.1,252.2 506.6,255.5 504.9,260.8 499.3,260.8 497.6,255.5" fill="#000" fill-opacity="0.5"/>
<polygon points="502.8,252.2 507.3,255.5 505.6,260.8 500.0,260.8 498.3,255.5" fill="#000" fill-opacity="0.5"/>
<polygon points="503.6,252.2 508.1,255.5 506.4,260.8 500.8,260.8 499.0,255.5" fill="#000" fill-opacity="0.5"/>
<polygon points="504.3,252.2 508.8,255.5 507.1,260.8 501.5,260.8 499.8,255.5" fill="#000" fill-opacity="0.5"/>
<polygon points="505.1,252.2 509.6,255.5 507.8,260.8 502.3,260.8 500.5,255.5" fill="#000" fill-opacity="0.5"/>
<polygon points="505.8,252.2 510.3,255.5 508.6,260.8 503.0,260.8 501.3,255.5" fill="#000" fill-opacity="0.5"/>
<polygon points="506.5,252.2 511.1,255.5 509.3,260.8 503.7,260.8 502.0,255.5" fill="#000" fill-opacity="0.5"/>
<polygon points="507.3,252.2 511.8,255.5 510.1,260.8 504.5,260.8 502.8,255.5" fill="#000" fill-opacity="0.5"/>
<polygon points="508.0,252.2 512.5,255.5 510.8,260.8 505.2,260.8 503.5,255.5" fill="#000" fill-opacity="0.5"/>
<polygon points="508.8,252.2 513.3,255.5 511.6,260.8 506.0,260.8 504.3,255.5" fill="#000" fill-opacity="0.5"/>
<polygon points="509.5,252.2 514.0,255.5 512.3,260.8 506.7,260.8 505.0,255.5" fill="#000" fill-opacity="0.5"/>
<polygon points="510.3,252.2 514.8,255.5 513.0,260.8 507.5,260.8 505.7,255.5" fill="#000" fill-opacity="0.5"/>
<polygon points="511.0,252.2 515.5,255.5 513.8,260.8 508.2,260.8 506.5,255.5" fill="#000" fill-opacity="0.5"/>
<rect x="349.3" y="21.8" width="246.2" height="245.2" fill="none" stroke="#2c2c2c" stroke-width="1.4"/>
<path d="M355.06 267v-2M355.06 21.8v2M359.62 267v-2M359.62 21.8v2M363.35 267v-2M363.35 21.8v2M366.50 267v-2M366.50 21.8v2M369.24 267v-2M369.24 21.8v2M371.64 267v-2M371.64 21.8v2M373.80 267v-4M373.80 21.8v4M387.98 267v-2M387.98 21.8v2M396.27 267v-2M396.27 21.8v2M402.16 267v-2M402.16 21.8v2M406.72 267v-2M406.72 21.8v2M410.45 267v-2M410.45 21.8v2M413.60 267v-2M413.60 21.8v2M416.34 267v-2M416.34 21.8v2M418.74 267v-2M418.74 21.8v2M420.90 267v-4M420.90 21.8v4M435.08 267v-2M435.08 21.8v2M443.37 267v-2M443.37 21.8v2M449.26 267v-2M449.26 21.8v2M453.82 267v-2M453.82 21.8v2M457.55 267v-2M457.55 21.8v2M460.70 267v-2M460.70 21.8v2M463.44 267v-2M463.44 21.8v2M465.84 267v-2M465.84 21.8v2M468.00 267v-4M468.00 21.8v4M482.18 267v-2M482.18 21.8v2M490.47 267v-2M490.47 21.8v2M496.36 267v-2M496.36 21.8v2M500.92 267v-2M500.92 21.8v2M504.65 267v-2M504.65 21.8v2M507.80 267v-2M507.80 21.8v2M510.54 267v-2M510.54 21.8v2M512.94 267v-2M512.94 21.8v2M515.10 267v-4M515.10 21.8v4M529.28 267v-2M529.28 21.8v2M537.57 267v-2M537.57 21.8v2M543.46 267v-2M543.46 21.8v2M548.02 267v-2M548.02 21.8v2M551.75 267v-2M551.75 21.8v2M554.90 267v-2M554.90 21.8v2M557.64 267v-2M557.64 21.8v2M560.04 267v-2M560.04 21.8v2M562.20 267v-4M562.20 21.8v4M576.38 267v-2M576.38 21.8v2M584.67 267v-2M584.67 21.8v2M590.56 267v-2M590.56 21.8v2M349.3 264.45h2M595.5 264.45h-2M349.3 262.20h2M595.5 262.20h-2M349.3 260.26h2M595.5 260.26h-2M349.3 258.54h2M595.5 258.54h-2M349.3 257.00h4M595.5 257.00h-4M349.3 246.89h2M595.5 246.89h-2M349.3 240.97h2M595.5 240.97h-2M349.3 236.77h2M595.5 236.77h-2M349.3 233.51h2M595.5 233.51h-2M349.3 230.85h2M595.5 230.85h-2M349.3 228.60h2M595.5 228.60h-2M349.3 226.66h2M595.5 226.66h-2M349.3 224.94h2M595.5 224.94h-2M349.3 223.40h4M595.5 223.40h-4M349.3 213.29h2M595.5 213.29h-2M349.3 207.37h2M595.5 207.37h-2M349.3 203.17h2M595.5 203.17h-2M349.3 199.91h2M595.5 199.91h-2M349.3 197.25h2M595.5 197.25h-2M349.3 195.00h2M595.5 195.00h-2M349.3 193.06h2M595.5 193.06h-2M349.3 191.34h2M595.5 191.34h-2M349.3 189.80h4M595.5 189.80h-4M349.3 179.69h2M595.5 179.69h-2M349.3 173.77h2M595.5 173.77h-2M349.3 169.57h2M595.5 169.57h-2M349.3 166.31h2M595.5 166.31h-2M349.3 163.65h2M595.5 163.65h-2M349.3 161.40h2M595.5 161.40h-2M349.3 159.46h2M595.5 159.46h-2M349.3 157.74h2M595.5 157.74h-2M349.3 156.20h4M595.5 156.20h-4M349.3 146.09h2M595.5 146.09h-2M349.3 140.17h2M595.5 140.17h-2M349.3 135.97h2M595.5 135.97h-2M349.3 132.71h2M595.5 132.71h-2M349.3 130.05h2M595.5 130.05h-2M349.3 127.80h2M595.5 127.80h-2M349.3 125.86h2M595.5 125.86h-2M349.3 124.14h2M595.5 124.14h-2M349.3 122.60h4M595.5 122.60h-4M349.3 112.49h2M595.5 112.49h-2M349.3 106.57h2M595.5 106.57h-2M349.3 102.37h2M595.5 102.37h-2M349.3 99.11h2M595.5 99.11h-2M349.3 96.45h2M595.5 96.45h-2M349.3 94.20h2M595.5 94.20h-2M349.3 92.26h2M595.5 92.26h-2M349.3 90.54h2M595.5 90.54h-2M349.3 89.00h4M595.5 89.00h-4M349.3 78.89h2M595.5 78.89h-2M349.3 72.97h2M595.5 72.97h-2M349.3 68.77h2M595.5 68.77h-2M349.3 65.51h2M595.5 65.51h-2M349.3 62.85h2M595.5 62.85h-2M349.3 60.60h2M595.5 60.60h-2M349.3 58.66h2M595.5 58.66h-2M349.3 56.94h2M595.5 56.94h-2M349.3 55.40h4M595.5 55.40h-4M349.3 45.29h2M595.5 45.29h-2M349.3 39.37h2M595.5 39.37h-2M349.3 35.17h2M595.5 35.17h-2M349.3 31.91h2M595.5 31.91h-2M349.3 29.25h2M595.5 29.25h-2M349.3 27.00h2M595.5 27.00h-2M349.3 25.06h2M595.5 25.06h-2M349.3 23.34h2M595.5 23.34h-2" stroke="#1a1a1a" stroke-width="0.95" fill="none"/>
<text x="328.4" y="262.2" class="tk" font-size="12.8" textLength="11.7" lengthAdjust="spacingAndGlyphs">10</text>
<text x="341.0" y="258.3" class="tk" font-size="8.9">0</text>
<text x="328.4" y="228.6" class="tk" font-size="12.8" textLength="11.7" lengthAdjust="spacingAndGlyphs">10</text>
<text x="341.0" y="224.7" class="tk" font-size="8.9">1</text>
<text x="328.4" y="195.0" class="tk" font-size="12.8" textLength="11.7" lengthAdjust="spacingAndGlyphs">10</text>
<text x="341.0" y="191.1" class="tk" font-size="8.9">2</text>
<text x="328.4" y="161.4" class="tk" font-size="12.8" textLength="11.7" lengthAdjust="spacingAndGlyphs">10</text>
<text x="341.0" y="157.5" class="tk" font-size="8.9">3</text>
<text x="328.4" y="127.8" class="tk" font-size="12.8" textLength="11.7" lengthAdjust="spacingAndGlyphs">10</text>
<text x="341.0" y="123.9" class="tk" font-size="8.9">4</text>
<text x="328.4" y="94.2" class="tk" font-size="12.8" textLength="11.7" lengthAdjust="spacingAndGlyphs">10</text>
<text x="341.0" y="90.3" class="tk" font-size="8.9">5</text>
<text x="328.4" y="60.6" class="tk" font-size="12.8" textLength="11.7" lengthAdjust="spacingAndGlyphs">10</text>
<text x="341.0" y="56.7" class="tk" font-size="8.9">6</text>
<text x="328.4" y="27.0" class="tk" font-size="12.8" textLength="11.7" lengthAdjust="spacingAndGlyphs">10</text>
<text x="341.0" y="23.1" class="tk" font-size="8.9">7</text>
<text x="365.6" y="281.9" class="tk" font-size="12.8" textLength="11.7" lengthAdjust="spacingAndGlyphs">10</text>
<text x="378.2" y="278.0" class="tk" font-size="8.9">2</text>
<text x="412.7" y="281.9" class="tk" font-size="12.8" textLength="11.7" lengthAdjust="spacingAndGlyphs">10</text>
<text x="425.3" y="278.0" class="tk" font-size="8.9">3</text>
<text x="459.8" y="281.9" class="tk" font-size="12.8" textLength="11.7" lengthAdjust="spacingAndGlyphs">10</text>
<text x="472.4" y="278.0" class="tk" font-size="8.9">4</text>
<text x="506.9" y="281.9" class="tk" font-size="12.8" textLength="11.7" lengthAdjust="spacingAndGlyphs">10</text>
<text x="519.5" y="278.0" class="tk" font-size="8.9">5</text>
<text x="554.0" y="281.9" class="tk" font-size="12.8" textLength="11.7" lengthAdjust="spacingAndGlyphs">10</text>
<text x="566.6" y="278.0" class="tk" font-size="8.9">6</text>
<text x="399.2" y="296" class="b" font-size="12.2" textLength="137.8" lengthAdjust="spacingAndGlyphs" xml:space="preserve">Number of features tried</text>
<text transform="translate(322.2 228.3) rotate(-90)" class="b" font-size="12.2" textLength="158.0" lengthAdjust="spacingAndGlyphs">Number of features matched</text>
<rect x="502.6" y="1.4" width="96" height="65.3" fill="#fff" stroke="#2c2c2c" stroke-width="1.4"/>
<text x="508.7" y="15.9" class="b" font-size="12.2" textLength="79.3" lengthAdjust="spacingAndGlyphs" xml:space="preserve">Index features</text>
<path d="M519.2 23.2h7.8l-3.9 7.5z" fill="#000" fill-opacity="0.5"/>
<rect x="519.30" y="36.20" width="7.6" height="7.6" fill="#000" fill-opacity="0.5"/>
<polygon points="523.3,48.0 527.8,51.3 526.1,56.6 520.5,56.6 518.8,51.3" fill="#000" fill-opacity="0.5"/>
<text x="543.7" y="30.8" class="b" font-size="10.2" textLength="42.1" lengthAdjust="spacingAndGlyphs" xml:space="preserve">Triangles</text>
<text x="543.7" y="43.2" class="b" font-size="10.2" textLength="27.6" lengthAdjust="spacingAndGlyphs" xml:space="preserve">Quads</text>
<text x="543.7" y="55.8" class="b" font-size="10.2" textLength="29.3" lengthAdjust="spacingAndGlyphs" xml:space="preserve">Quints</text>
</svg>
</body></html>
